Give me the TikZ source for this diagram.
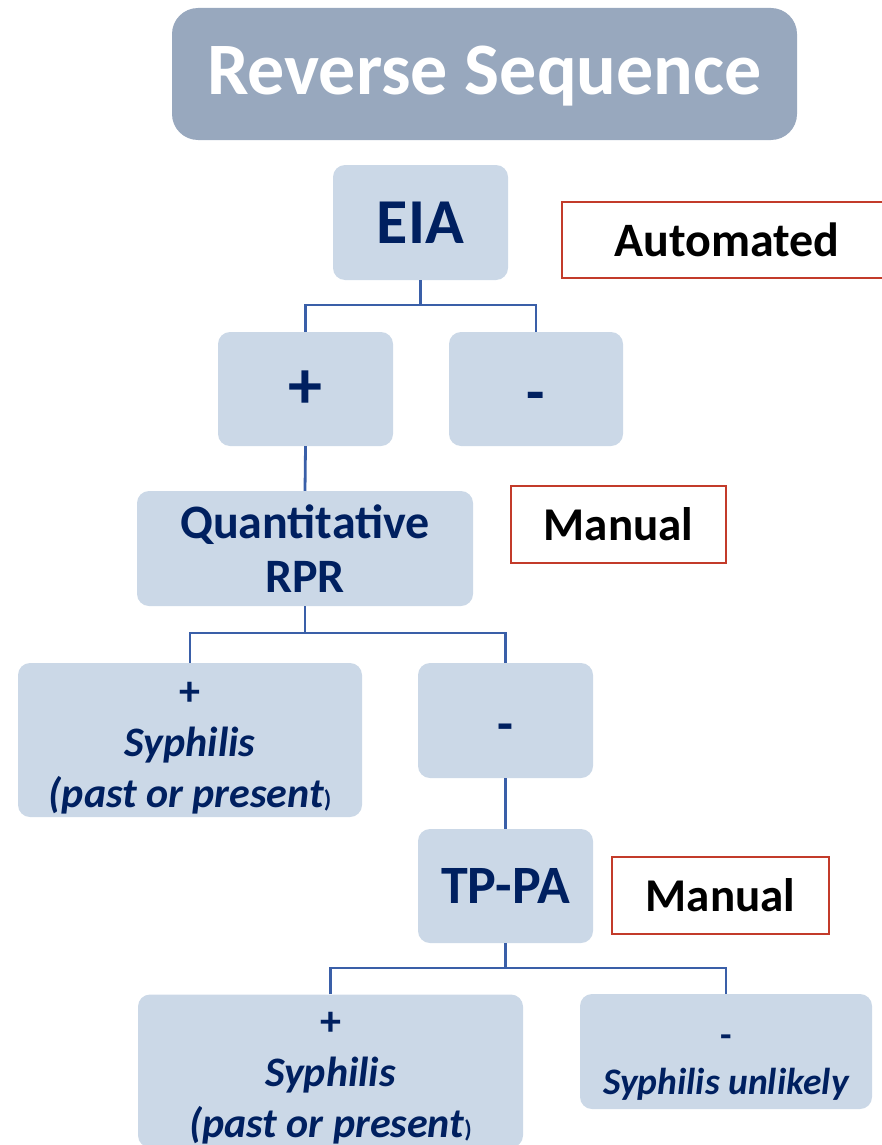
\documentclass[tikz,border=0pt]{standalone}
\usepackage{fontspec}
\setmainfont{Carlito}
\usetikzlibrary{positioning}

\definecolor{titlefill}{HTML}{98A8BE}
\definecolor{boxfill}{HTML}{CBD8E7}
\definecolor{navy}{HTML}{002060}
\definecolor{linkblue}{HTML}{3A5FA8}
\definecolor{tagred}{HTML}{C33B2A}

\newcommand{\fsz}[2]{\fontsize{#1}{#2}\selectfont}
\newcommand{\smallparen}{{\fsz{24}{24}\upshape)}}
% lower the printed lines inside a box without changing its size
\newcommand{\lowered}[2]{\raisebox{-#1}[\height][\depth]{\begin{tabular}{@{}c@{}}#2\end{tabular}}}

\begin{document}
\begin{tikzpicture}[x=1pt,y=-1pt,
  stepbox/.style={fill=boxfill, rounded corners=12pt, inner sep=0pt,
    text=navy, font=\bfseries, align=center},
  tagbox/.style={draw=tagred, line width=1.8pt, fill=white, inner sep=0pt,
    text=black, font=\bfseries},
  conn/.style={draw=linkblue, line width=2.8pt}]
\useasboundingbox (0,0) rectangle (881,1145);

% heading
\node[fill=titlefill, rounded corners=26pt, inner sep=0pt,
  minimum width=625pt, minimum height=132pt, text=white,
  font=\bfseries\fsz{74}{80}] (title) at (484.5,74)
  {\lowered{5pt}{Reverse Sequence}};

% first test
\node[stepbox, minimum width=175pt, minimum height=115pt,
  font=\bfseries\fsz{64}{70}] (eia) at (420.5,222.5) {EIA};
\node[tagbox, minimum width=330pt, minimum height=76pt,
  font=\bfseries\fsz{48}{52}] (auto) at (727,240) {Automated};

\node[stepbox, minimum width=175pt, minimum height=114pt,
  font=\bfseries\fsz{68}{72}] (plusA) at (305.5,389) {\lowered{5pt}{+}};
\node[stepbox, minimum width=174pt, minimum height=114pt,
  font=\bfseries\fsz{60}{64}] (minusA) at (536,389) {\lowered{11pt}{-}};

% second test
\node[stepbox, minimum width=336pt, minimum height=115pt,
  font=\bfseries\fsz{48}{54}] (rpr) at (305,548.5) {Quantitative\\RPR};
\node[tagbox, minimum width=215pt, minimum height=77pt,
  font=\bfseries\fsz{47}{50}] (manA) at (618.5,524.5) {Manual};

\node[stepbox, minimum width=344pt, minimum height=154pt,
  font=\bfseries\fsz{42}{51}] (posB) at (190,740)
  {\lowered{6pt}{+\\\itshape Syphilis\\\itshape (past or present\smallparen}};
\node[stepbox, minimum width=175pt, minimum height=115pt,
  font=\bfseries\fsz{52}{56}] (minusB) at (505.5,720.5) {\lowered{10pt}{-}};

% third test
\node[stepbox, minimum width=175pt, minimum height=114pt,
  font=\bfseries\fsz{54}{58}] (tppa) at (505.5,886) {TP-PA};
\node[tagbox, minimum width=217pt, minimum height=77pt,
  font=\bfseries\fsz{47}{50}] (manB) at (720.5,895.5) {Manual};

\node[stepbox, minimum width=385pt, minimum height=152pt,
  font=\bfseries\fsz{42}{51}] (posC) at (330.5,1071)
  {\lowered{5pt}{+\\\itshape Syphilis\\\itshape (past or present\smallparen}};
\node[stepbox, minimum width=292pt, minimum height=115pt,
  font=\bfseries\fsz{37.5}{47}] (negC) at (726,1051.5)
  {\lowered{10pt}{-\\\itshape Syphilis unlikely}};

% branch points
\coordinate (j1) at (420.5,305);
\coordinate (j2) at (305,633);
\coordinate (j3) at (505.5,968);

% connectors
\draw[conn] (eia.south) -- (j1);
\draw[conn] (plusA.north) |- (j1) -| (minusA.north);
\draw[conn] (plusA.south) -- (rpr.north);
\draw[conn] (rpr.south) -- (j2);
\draw[conn] (posB.north) |- (j2) -| (minusB.north);
\draw[conn] (minusB.south) -- (tppa.north);
\draw[conn] (tppa.south) -- (j3);
\draw[conn] (posC.north) |- (j3) -| (negC.north);
\end{tikzpicture}
\end{document}
